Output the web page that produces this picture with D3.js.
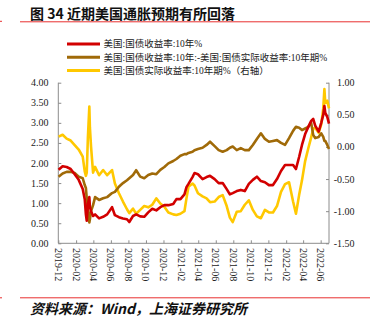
<!DOCTYPE html>
<html>
<head>
<meta charset="utf-8">
<script src="https://cdn.jsdelivr.net/npm/d3@7/dist/d3.min.js"></script>
<style>
  html, body { margin: 0; padding: 0; background: #fff; }
  svg { display: block; }
</style>
</head>
<body>
<svg id="chart" width="381" height="329"></svg>
<script>
// Observation dates (roughly bi-weekly, plus key turning points)
const dates = [
  "2019-12-02","2019-12-16","2019-12-30","2020-01-13","2020-01-27","2020-02-10","2020-02-24",
  "2020-03-02","2020-03-06","2020-03-09","2020-03-13","2020-03-18","2020-03-20","2020-03-24","2020-03-31",
  "2020-04-07","2020-04-21","2020-05-05","2020-05-19","2020-06-05","2020-06-15","2020-06-29",
  "2020-07-13","2020-07-27","2020-08-04","2020-08-17","2020-08-28","2020-09-11","2020-09-25",
  "2020-10-09","2020-10-23","2020-11-06","2020-11-20","2020-12-04","2020-12-18",
  "2021-01-04","2021-01-15","2021-01-29","2021-02-12","2021-02-19","2021-02-26","2021-03-12",
  "2021-03-19","2021-03-31","2021-04-16","2021-04-30","2021-05-12","2021-05-28","2021-06-11",
  "2021-06-25","2021-07-09","2021-07-20","2021-07-30","2021-08-13","2021-08-27","2021-09-10",
  "2021-09-24","2021-10-08","2021-10-22","2021-11-05","2021-11-19","2021-12-03","2021-12-17",
  "2021-12-31","2022-01-14","2022-01-28","2022-02-11","2022-02-25","2022-03-07","2022-03-18",
  "2022-03-28","2022-04-08","2022-04-19","2022-04-29","2022-05-06","2022-05-13","2022-05-25",
  "2022-06-03","2022-06-10","2022-06-14","2022-06-17","2022-06-24","2022-06-30"
];

// 美国:国债收益率:10年 (%), left axis
const nominal10y = [
  1.83,1.92,1.90,1.85,1.72,1.58,1.35,
  1.10,0.72,0.56,0.98,1.15,0.90,0.80,0.68,
  0.72,0.62,0.66,0.72,0.90,0.70,0.65,
  0.62,0.60,0.53,0.68,0.72,0.67,0.66,
  0.77,0.86,0.82,0.90,0.95,0.95,
  0.98,1.10,1.10,1.22,1.40,1.48,1.65,
  1.75,1.72,1.60,1.65,1.68,1.60,1.50,
  1.50,1.35,1.22,1.25,1.30,1.33,1.30,
  1.48,1.58,1.66,1.55,1.52,1.45,1.45,
  1.60,1.80,1.95,1.95,1.95,1.85,2.15,
  2.45,2.72,2.90,3.05,3.10,2.93,2.78,
  3.00,3.20,3.42,3.25,3.15,2.98
];

// 美国:国债收益率:10年 - 美国:国债实际收益率:10年期 (%), left axis
const breakeven10y = [
  1.66,1.74,1.78,1.78,1.75,1.66,1.62,
  1.45,1.38,1.12,0.85,0.52,0.60,0.80,0.95,
  1.15,1.08,1.12,1.15,1.25,1.28,1.41,
  1.50,1.57,1.62,1.70,1.82,1.66,1.62,
  1.70,1.74,1.72,1.83,1.90,1.99,
  2.05,2.10,2.18,2.22,2.22,2.25,2.28,
  2.32,2.35,2.38,2.45,2.53,2.42,2.32,
  2.28,2.32,2.38,2.41,2.32,2.37,2.32,
  2.32,2.45,2.60,2.74,2.60,2.53,2.55,
  2.57,2.50,2.45,2.62,2.80,2.90,2.88,
  2.82,2.86,2.90,3.00,2.70,2.62,2.65,
  2.74,2.65,2.55,2.55,2.45,2.35
];

// 美国:国债实际收益率:10年期 (%), right axis
const real10y = [
  0.16,0.19,0.13,0.10,0.03,-0.04,-0.15,
  -0.38,-0.45,-0.40,0.15,0.63,0.30,0.00,-0.40,
  -0.31,-0.44,-0.36,-0.44,-0.36,-0.57,-0.72,
  -0.85,-0.97,-1.03,-0.96,-1.04,-0.98,-0.92,
  -0.94,-0.90,-0.80,-0.88,-0.93,-1.02,
  -1.05,-1.06,-1.04,-1.00,-0.80,-0.62,-0.57,
  -0.60,-0.72,-0.77,-0.80,-0.86,-0.85,-0.78,
  -0.75,-0.92,-1.10,-1.17,-1.01,-1.00,-0.90,
  -0.83,-0.98,-1.08,-1.11,-0.98,-1.02,-1.02,
  -0.92,-0.70,-0.58,-0.55,-0.85,-1.04,-0.75,
  -0.52,-0.22,-0.02,0.15,0.28,0.30,0.22,
  0.35,0.60,0.90,0.68,0.72,0.60
];

const leftTicks = [0, 0.5, 1, 1.5, 2, 2.5, 3, 3.5, 4];
const rightTicks = [-1.5, -1, -0.5, 0, 0.5, 1];
const xTickLabels = [
  "2019-12","2020-02","2020-04","2020-06","2020-08","2020-10","2020-12","2021-02",
  "2021-04","2021-06","2021-08","2021-10","2021-12","2022-02","2022-04","2022-06"
];

const titleText = "图 34 近期美国通胀预期有所回落";
const sourceText = "资料来源：Wind，上海证券研究所";
const seriesNames = [
  "美国:国债收益率:10年%",
  "美国:国债收益率:10年:-美国:国债实际收益率:10年期%",
  "美国:国债实际收益率:10年期%（右轴）"
];
const seriesColors = ["#d20000", "#a06a08", "#ffc800"];

const parse = d3.timeParse("%Y-%m-%d");
const svg = d3.select("#chart");

const serifFont = "'Liberation Serif', 'DejaVu Serif', serif";
const cjkFont = "'Liberation Serif', 'Noto Sans CJK SC', serif";

// Header
svg.append("text")
  .attr("x", 30).attr("y", 18.5)
  .attr("font-family", "'Noto Sans CJK SC', sans-serif")
  .attr("font-weight", "bold")
  .attr("font-size", 14)
  .attr("fill", "#111")
  .text(titleText);
svg.append("line").attr("x1", 20).attr("x2", 370).attr("y1", 21.8).attr("y2", 21.8)
  .attr("stroke", "#e83030").attr("stroke-width", 1);
svg.append("line").attr("x1", 0).attr("x2", 2).attr("y1", 21.3).attr("y2", 21.3)
  .attr("stroke", "#e83030").attr("stroke-width", 1);

// Footer
svg.append("line").attr("x1", 20).attr("x2", 370).attr("y1", 297.8).attr("y2", 297.8)
  .attr("stroke", "#e83030").attr("stroke-width", 1);
svg.append("line").attr("x1", 0).attr("x2", 2).attr("y1", 297.8).attr("y2", 297.8)
  .attr("stroke", "#e83030").attr("stroke-width", 1);
svg.append("text")
  .attr("x", 30).attr("y", 314)
  .attr("font-family", "'Noto Sans CJK SC', sans-serif")
  .attr("font-weight", "bold")
  .attr("font-style", "italic")
  .attr("font-size", 14)
  .attr("fill", "#111")
  .attr("transform", "skewX(0)")
  .text(sourceText);

// Scales
const x = d3.scaleTime()
  .domain([parse("2019-12-01"), parse("2022-06-30")])
  .range([58.3, 329]);
const yL = d3.scaleLinear().domain([0, 4]).range([243.3, 82.7]);
const yR = d3.scaleLinear().domain([-1.5, 1]).range([243.3, 82.7]);

const axisColor = "#8c8c8c";

// Left axis
const gL = svg.append("g").attr("transform", "translate(58.3,0)")
  .call(d3.axisRight(yL).tickValues(leftTicks).tickSize(3).tickFormat(""));
gL.selectAll("path, line").attr("stroke", axisColor);
gL.select("path").attr("d", `M0,${yL(0)}V${yL(4)}`);
svg.append("g").selectAll("text").data(leftTicks).join("text")
  .attr("x", 48.5).attr("y", d => yL(d)).attr("dy", "0.35em")
  .attr("text-anchor", "end")
  .attr("font-family", serifFont).attr("font-size", 10).attr("fill", "#222")
  .text(d => d3.format(".2f")(d));

// Right axis
const gR = svg.append("g").attr("transform", "translate(329,0)")
  .call(d3.axisLeft(yR).tickValues(rightTicks).tickSize(3).tickFormat(""));
gR.selectAll("path, line").attr("stroke", axisColor);
gR.select("path").attr("d", `M0,${yR(-1.5)}V${yR(1)}`);
svg.append("g").selectAll("text").data(rightTicks).join("text")
  .attr("x", d => d < 0 ? 333.7 : 337).attr("y", d => yR(d)).attr("dy", "0.35em")
  .attr("text-anchor", "start")
  .attr("font-family", serifFont).attr("font-size", 10).attr("fill", "#222")
  .text(d => d3.format(".2f")(d).replace("−", "-"));

// Bottom axis
const xTickDates = xTickLabels.map(s => parse(s + "-01"));
const gB = svg.append("g").attr("transform", `translate(0,${yL(0)})`)
  .call(d3.axisTop(x).tickValues(xTickDates).tickSize(3).tickFormat(""));
gB.selectAll("path, line").attr("stroke", axisColor);
gB.select("path").attr("d", `M58.3,0H329`);
svg.append("g").selectAll("text").data(xTickLabels).join("text")
  .attr("transform", (d, i) => `translate(${x(xTickDates[i])},248) rotate(90)`)
  .attr("dy", "0.35em")
  .attr("text-anchor", "start")
  .attr("font-family", serifFont).attr("font-size", 10).attr("fill", "#222")
  .text(d => d);

// Series
const rows = dates.map((d, i) => ({
  date: parse(d), nominal: nominal10y[i], breakeven: breakeven10y[i], real: real10y[i]
}));

const plot = svg.append("g");
const lineDefs = [
  { key: "real", scale: yR, color: seriesColors[2] },
  { key: "breakeven", scale: yL, color: seriesColors[1] },
  { key: "nominal", scale: yL, color: seriesColors[0] }
];
lineDefs.forEach(def => {
  plot.append("path")
    .datum(rows)
    .attr("fill", "none")
    .attr("stroke", def.color)
    .attr("stroke-width", 2.6)
    .attr("stroke-linejoin", "round")
    .attr("d", d3.line().x(r => x(r.date)).y(r => def.scale(r[def.key])));
});

// Legend
const legend = svg.append("g");
seriesNames.forEach((name, i) => {
  const ly = 44 + i * 13.2;
  legend.append("line").attr("x1", 67).attr("x2", 100).attr("y1", ly).attr("y2", ly)
    .attr("stroke", seriesColors[i]).attr("stroke-width", 3);
  legend.append("text").attr("x", 103.5).attr("y", ly).attr("dy", "0.35em")
    .attr("font-family", cjkFont).attr("font-size", 9.5).attr("fill", "#222")
    .text(name);
});
</script>
</body>
</html>
